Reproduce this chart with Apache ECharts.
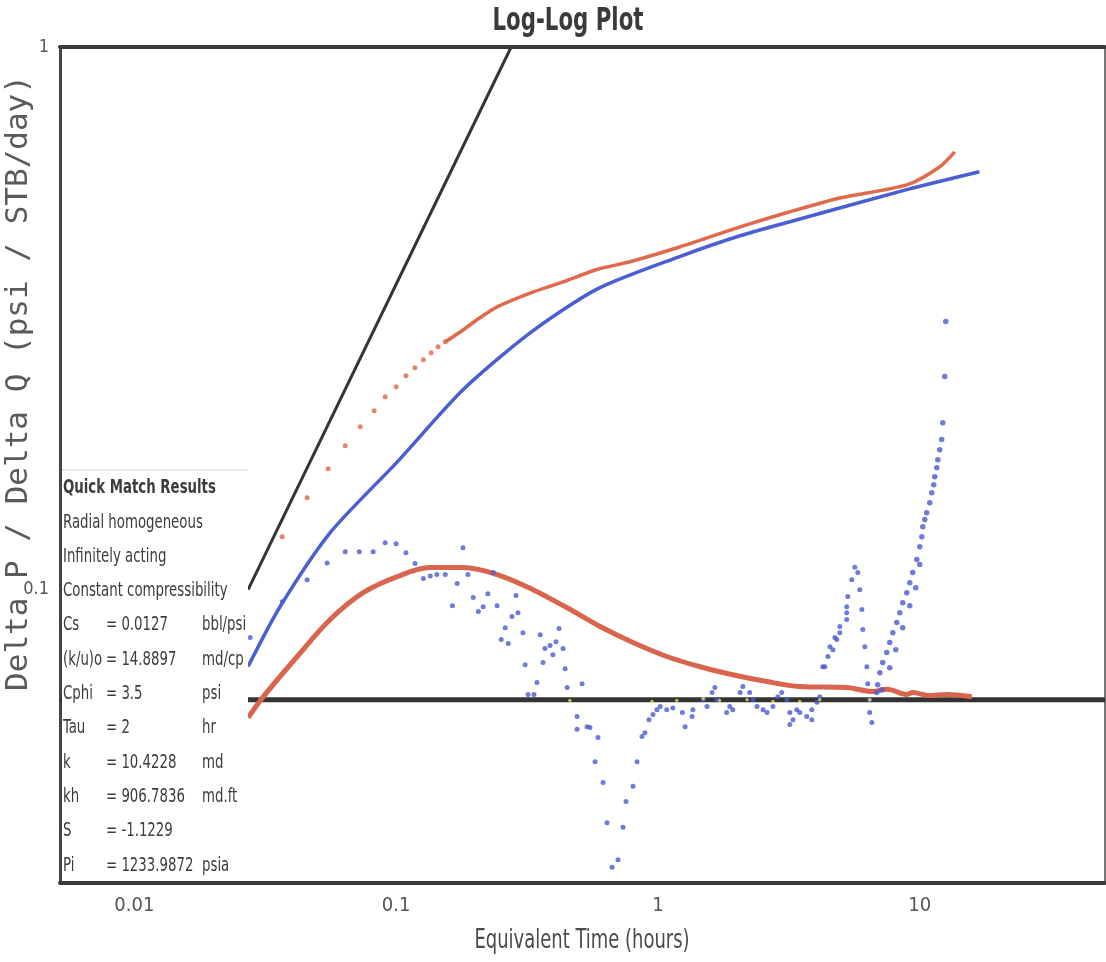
<!DOCTYPE html>
<html>
<head>
  <meta charset="UTF-8">
  <title>Log-Log Plot</title>
  <script src="https://cdn.jsdelivr.net/npm/echarts@6/dist/echarts.min.js"></script>
  <style>
    html, body { margin: 0; padding: 0; background: #fff; }
    #main { width: 1106px; height: 962px; }
  </style>
</head>
<body>
  <div id="main"></div>
  <script>
    var xTickLabels = ['0.01', '0.1', '1', '10'];
    var yTickLabels = ['0.1', '1'];

    // unit slope (wellbore storage) line and flat derivative line
    var slopeLine = [[0.0272, 0.1], [0.275, 1]];
    var flatLine = [[0.0052, 0.0627], [51, 0.0627]];

    // model pressure change (blue curve)
    var modelPressure = [[0.0272, 0.0722], [0.036, 0.093], [0.056, 0.1274], [0.101, 0.172],
      [0.180, 0.2335], [0.324, 0.297], [0.585, 0.358], [1.21, 0.411], [2.06, 0.449], [3.71, 0.486],
      [8.92, 0.546], [16.9, 0.589]];

    // model derivative (red curve)
    var modelDeriv = [[0.0272, 0.0581], [0.0311, 0.0635], [0.0419, 0.0753], [0.056, 0.0881], [0.0748, 0.0987],
      [0.101, 0.1057], [0.135, 0.1098], [0.180, 0.1098], [0.243, 0.1066], [0.333, 0.100], [0.450, 0.0926],
      [0.601, 0.0855], [0.803, 0.0799], [1.08, 0.0753], [1.45, 0.0721], [1.93, 0.0697], [2.61, 0.0677],
      [3.48, 0.0663], [5.26, 0.0660], [6.62, 0.0649], [7.49, 0.0655], [8.92, 0.0641], [9.40, 0.0646],
      [10.9, 0.0638], [12.7, 0.0641], [15.8, 0.0635]];

    // measured pressure change (red dots, early sparse part then dense)
    var pressureDots = [[0.0367, 0.1252], [0.0457, 0.1477], [0.0550, 0.1671], [0.0639, 0.1842], [0.0729, 0.1996],
      [0.0824, 0.2136], [0.0908, 0.2267], [0.100, 0.2365], [0.109, 0.2478], [0.118, 0.2564], [0.127, 0.2652],
      [0.136, 0.2732], [0.1446, 0.2802], [0.154, 0.2862]];
    var pressureDense = [[0.154, 0.286], [0.180, 0.301], [0.209, 0.317], [0.243, 0.332], [0.325, 0.352],
      [0.434, 0.369], [0.585, 0.389], [0.782, 0.402], [1.21, 0.428], [2.06, 0.466], [3.19, 0.497],
      [4.95, 0.527], [8.92, 0.557], [11.9, 0.601], [13.6, 0.641]];

    // measured derivative (blue dots)
    var derivEarly = [[0.0277, 0.0816], [0.0367, 0.0950], [0.0457, 0.1043], [0.0545, 0.112], [0.0639, 0.1175],
      [0.0723, 0.1175], [0.0817, 0.1175], [0.0908, 0.122], [0.100, 0.1215], [0.109, 0.117], [0.118, 0.1117],
      [0.127, 0.1048], [0.135, 0.106], [0.143, 0.1066], [0.154, 0.1066], [0.180, 0.1195], [0.171, 0.1026],
      [0.188, 0.1066], [0.235, 0.1075], [0.164, 0.0934], [0.197, 0.0967], [0.224, 0.0983], [0.215, 0.0930],
      [0.206, 0.0911], [0.243, 0.0934], [0.287, 0.0975], [0.292, 0.0907], [0.277, 0.0892], [0.261, 0.0851],
      [0.252, 0.0809], [0.268, 0.0796], [0.305, 0.0833], [0.355, 0.0826], [0.419, 0.0848], [0.408, 0.0802],
      [0.387, 0.0789], [0.370, 0.0779], [0.397, 0.0759], [0.434, 0.0779], [0.364, 0.0734], [0.311, 0.0727],
      [0.442, 0.0715], [0.345, 0.0674], [0.513, 0.0671], [0.450, 0.0660], [0.319, 0.0641], [0.336, 0.0641]];
    var derivDip = [[0.491, 0.0584], [0.491, 0.0553], [0.536, 0.0559], [0.550, 0.0557], [0.590, 0.0534],
      [0.575, 0.0482], [0.617, 0.0441], [0.639, 0.0372], [0.668, 0.0308], [0.704, 0.0318], [0.735, 0.0365],
      [0.755, 0.0407], [0.803, 0.0434], [0.832, 0.0482], [0.869, 0.0536], [0.892, 0.0545], [0.924, 0.0576],
      [0.957, 0.0589], [0.991, 0.0601]];
    var derivFlat = [[1.02, 0.0609], [1.08, 0.0601], [1.14, 0.0605], [1.24, 0.0594], [1.27, 0.0559], [1.35, 0.0584],
      [1.36, 0.0601], [1.49, 0.0627], [1.54, 0.0609], [1.61, 0.0646], [1.65, 0.0660], [1.68, 0.0627],
      [1.83, 0.0594], [1.88, 0.0609], [1.93, 0.0601], [2.06, 0.0646], [2.11, 0.0663], [2.24, 0.0646],
      [2.31, 0.0627], [2.39, 0.0609], [2.52, 0.0601], [2.61, 0.0594], [2.75, 0.0609], [2.87, 0.0635],
      [2.97, 0.0646], [3.11, 0.0627], [3.19, 0.0594], [3.28, 0.0576], [3.39, 0.0601], [3.48, 0.0594],
      [3.70, 0.0584], [3.87, 0.0601], [4.05, 0.0620], [4.15, 0.0635], [3.19, 0.0564], [3.87, 0.0576]];
    var derivHump = [[4.34, 0.0721], [4.46, 0.0753], [4.66, 0.0775], [4.26, 0.0721], [4.54, 0.0785], [4.74, 0.0816],
      [4.82, 0.0809], [4.95, 0.0855], [4.95, 0.0833], [5.26, 0.0881], [5.26, 0.0907], [5.31, 0.0971],
      [5.26, 0.0930], [5.50, 0.1043], [5.65, 0.110], [5.80, 0.1075], [5.90, 0.100], [6.01, 0.0919],
      [6.06, 0.0844], [6.17, 0.0785], [6.28, 0.0721], [6.33, 0.0671], [6.44, 0.0627], [6.44, 0.0594],
      [6.56, 0.0569]];
    var derivRise = [[6.85, 0.0646], [7.04, 0.0703], [7.48, 0.0766], [7.89, 0.0833], [8.39, 0.0907], [8.92, 0.0987],
      [9.40, 0.1075], [10.0, 0.120], [10.27, 0.1306], [10.63, 0.1386], [11.11, 0.1509], [11.41, 0.1615],
      [11.72, 0.1736], [12.13, 0.189], [12.24, 0.203], [6.91, 0.0668], [7.22, 0.0734], [7.68, 0.0799],
      [8.17, 0.0870], [8.61, 0.0946], [9.16, 0.1030], [9.74, 0.1136], [10.18, 0.1252], [10.45, 0.1346],
      [10.92, 0.1446], [11.31, 0.1561], [11.61, 0.1678], [11.92, 0.181], [7.16, 0.0654], [7.68, 0.0718],
      [8.10, 0.0775], [8.61, 0.0851], [9.16, 0.0934], [9.65, 0.1008], [10.0, 0.1112],
      [12.46, 0.247], [12.57, 0.312]];

    // small yellow markers on the flat line
    var flatMarks = [[0.461, 0.0625], [0.949, 0.0622], [1.18, 0.0625], [1.49, 0.0630], [1.72, 0.0625],
      [2.19, 0.0627], [2.75, 0.0622], [3.48, 0.0622], [4.15, 0.0627], [6.44, 0.0627]];

    var qmLines = ['Quick Match Results', 'Radial homogeneous', 'Infinitely acting', 'Constant compressibility'];
    var qmParams = [
      ['Cs', '= 0.0127', 'bbl/psi'],
      ['(k/u)o', '= 14.8897', 'md/cp'],
      ['Cphi', '= 3.5', 'psi'],
      ['Tau', '= 2', 'hr'],
      ['k', '= 10.4228', 'md'],
      ['kh', '= 906.7836', 'md.ft'],
      ['S', '= -1.1229', ''],
      ['Pi', '= 1233.9872', 'psia']
    ];

    var narrow = "'Liberation Sans Narrow', 'Arial Narrow', 'DejaVu Sans Condensed', sans-serif";
    var textCol = '#3c3c3c';
    var squeeze = 0.74;   // the original lettering is very condensed
    var xMin = 0.0052, xMax = 51, yMin = 0.0288, yMax = 1;

    function decadeLabel(list) {
      return function (v) {
        var e = Math.log10(v);
        var r = Math.round(e);
        if (Math.abs(e - r) > 1e-6) return '';
        var s = String(+Math.pow(10, r).toFixed(Math.max(0, -r)));
        return list.indexOf(s) >= 0 ? s : '';
      };
    }

    function label(text, x, y, size, opts) {
      opts = opts || {};
      return {
        type: 'text', z: 102, x: x, y: y, scaleX: squeeze,
        style: {
          text: text, fill: opts.color || textCol,
          font: (opts.bold ? 'bold ' : '') + size + 'px ' + narrow,
          align: opts.align || 'left', verticalAlign: 'middle'
        }
      };
    }

    var chart = echarts.init(document.getElementById('main'));

    var graphics = [
      { type: 'rect', z: 100, shape: { x: 62, y: 469, width: 186, height: 412 }, style: { fill: '#fff' } },
      { type: 'line', z: 101, shape: { x1: 62, y1: 470, x2: 248, y2: 470 }, style: { stroke: '#cfcfcf', lineWidth: 1 } },
      label('Log-Log Plot', 568, 22, 32, { bold: true, align: 'center', color: '#3a3a3a' }),
      label('Equivalent Time (hours)', 582, 941, 27, { align: 'center', color: '#4a4a4a' }),
      {
        type: 'text', z: 102, x: 19, y: 383, rotation: Math.PI / 2,
        style: {
          text: 'Delta P / Delta Q (psi / STB/day)', fill: '#5a5a5a',
          font: "31px 'DejaVu Sans Mono', monospace", align: 'center', verticalAlign: 'middle'
        }
      }
    ];
    var rowY = 488, rowStep = 34.3;
    qmLines.forEach(function (t, i) {
      graphics.push(label(t, 63, rowY + i * rowStep, 20, { bold: i === 0 }));
    });
    qmParams.forEach(function (p, j) {
      var y = rowY + (j + qmLines.length) * rowStep;
      graphics.push(label(p[0], 63, y, 20));
      graphics.push(label(p[1], 106, y, 20));
      graphics.push(label(p[2], 202, y, 20));
    });

    function dots(data, color, size) {
      return { type: 'scatter', data: data, symbol: 'circle', symbolSize: size, itemStyle: { color: color }, z: 3 };
    }
    function curve(data, color, width, z, smooth) {
      return { type: 'line', data: data, smooth: smooth || 0.35, symbol: 'none',
        lineStyle: { color: color, width: width }, z: z };
    }

    var option = {
      animation: false,
      backgroundColor: '#fff',
      grid: { left: 60, right: 1, top: 47, bottom: 79, outerBoundsMode: 'none', containLabel: false },
      xAxis: [{
        type: 'log', min: xMin, max: xMax,
        axisLine: { lineStyle: { color: '#3a3a3a', width: 4 } },
        axisTick: { show: false },
        splitLine: { show: false },
        axisLabel: { color: '#555', fontFamily: narrow, fontSize: 20, margin: 13, formatter: decadeLabel(xTickLabels) }
      }, {
        type: 'log', min: xMin, max: xMax, position: 'top',
        axisLine: { lineStyle: { color: '#3a3a3a', width: 4 } },
        axisTick: { show: false }, axisLabel: { show: false }, splitLine: { show: false }
      }],
      yAxis: [{
        type: 'log', min: yMin, max: yMax,
        axisLine: { show: true, lineStyle: { color: '#444', width: 3 } },
        axisTick: { show: false },
        splitLine: { show: false },
        axisLabel: { color: '#555', fontFamily: narrow, fontSize: 18, margin: 11, formatter: decadeLabel(yTickLabels) }
      }, {
        type: 'log', min: yMin, max: yMax, position: 'right',
        axisLine: { show: true, lineStyle: { color: '#777', width: 2 } },
        axisTick: { show: false }, axisLabel: { show: false }, splitLine: { show: false }
      }],
      graphic: graphics,
      series: [
        { type: 'line', data: flatLine, symbol: 'none', lineStyle: { color: '#333', width: 5 }, z: 2 },
        { type: 'line', data: slopeLine, symbol: 'none', lineStyle: { color: '#353535', width: 3 }, z: 2 },
        curve(modelDeriv, '#d9654f', 5, 2),
        curve(modelPressure, '#4a5fd2', 3.5, 4, 0.25),
        dots(pressureDots, '#e06646', 5),
        curve(pressureDense, '#df6a4c', 3.5, 3, 0.25),
        dots(derivEarly, '#4a5ad0', 5),
        dots(derivDip, '#4a5ad0', 5),
        dots(derivFlat, '#4a5ad0', 5),
        dots(derivHump, '#4a5ad0', 5),
        dots(derivRise, '#4a5ad0', 5.5),
        dots(flatMarks, '#e8df55', 3.5)
      ]
    };

    chart.setOption(option);
  </script>
</body>
</html>
